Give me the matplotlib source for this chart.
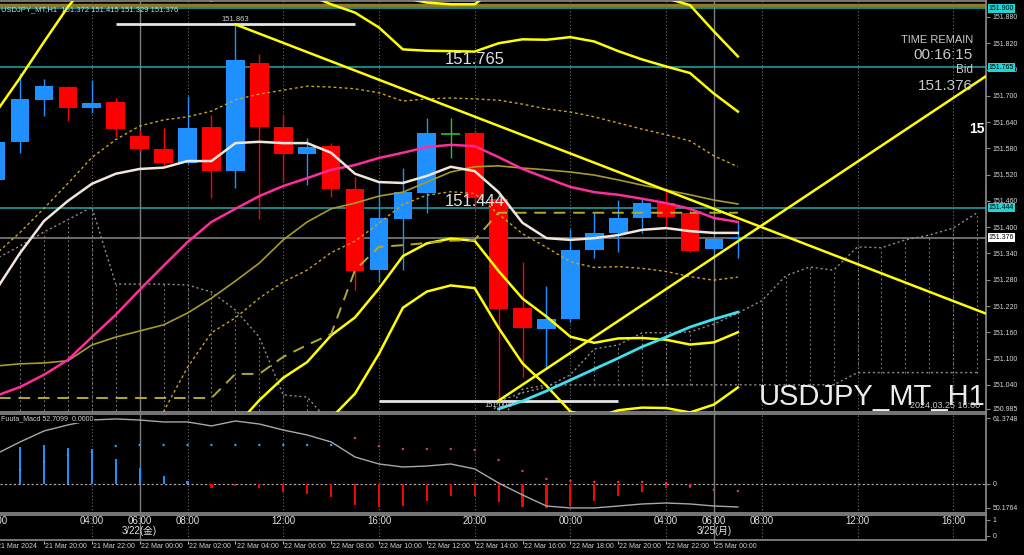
import numpy as np
import matplotlib
matplotlib.use("Agg")
import matplotlib.pyplot as plt
from matplotlib.transforms import blended_transform_factory as btf

plt.rcParams['font.family'] = ['Liberation Sans', 'Noto Sans CJK JP', 'DejaVu Sans']

# ---------------- data (bar index 0 = 21 Mar 18:00 server time, H1) ----------------
bar_idx = list(range(32))
opens = [151.508, 151.595, 151.690, 151.720, 151.672, 151.686, 151.608, 151.579, 151.547, 151.629,
         151.528, 151.775, 151.629, 151.567, 151.585, 151.487, 151.302, 151.419, 151.478, 151.613,
         151.615, 151.464, 151.216, 151.168, 151.190, 151.348, 151.387, 151.421, 151.455, 151.433,
         151.350, 151.372]
highs = [151.600, 151.752, 151.738, 151.722, 151.736, 151.695, 151.622, 151.627, 151.700, 151.656,
         151.863, 151.796, 151.656, 151.604, 151.592, 151.515, 151.503, 151.535, 151.649, 151.649,
         151.622, 151.466, 151.321, 151.266, 151.396, 151.433, 151.462, 151.465, 151.485, 151.440,
         151.378, 151.415]
lows = [151.495, 151.569, 151.654, 151.643, 151.661, 151.606, 151.575, 151.538, 151.545, 151.467,
        151.490, 151.419, 151.503, 151.496, 151.469, 151.257, 151.275, 151.302, 151.433, 151.558,
        151.440, 151.004, 151.058, 151.081, 151.184, 151.330, 151.343, 151.387, 151.400, 151.343,
        151.345, 151.329]
closes = [151.594, 151.693, 151.722, 151.672, 151.684, 151.624, 151.579, 151.547, 151.627, 151.528,
          151.782, 151.629, 151.567, 151.583, 151.487, 151.300, 151.421, 151.480, 151.615, 151.613,
          151.467, 151.213, 151.170, 151.190, 151.348, 151.387, 151.421, 151.455, 151.423, 151.346,
          151.373, 151.376]

tenkan = [151.257, 151.341, 151.414, 151.460, 151.499, 151.522, 151.533, 151.536, 151.551, 151.551,
          151.592, 151.595, 151.592, 151.592, 151.570, 151.522, 151.503, 151.501, 151.517, 151.538,
          151.528, 151.480, 151.410, 151.375, 151.371, 151.375, 151.382, 151.394, 151.398, 151.391,
          151.387, 151.387]
bb_mid = [151.015, 151.035, 151.063, 151.097, 151.149, 151.200, 151.257, 151.312, 151.366, 151.412,
          151.442, 151.471, 151.494, 151.512, 151.531, 151.542, 151.558, 151.570, 151.583, 151.588,
          151.585, 151.560, 151.533, 151.512, 151.492, 151.480, 151.474, 151.465, 151.455, 151.442,
          151.421, 151.412]
bb_sigma = [0.324, 0.353, 0.380, 0.403, 0.410, 0.400, 0.374, 0.333, 0.286, 0.253,
            0.249, 0.233, 0.219, 0.210, 0.189, 0.174, 0.149, 0.118, 0.110, 0.107,
            0.108, 0.130, 0.148, 0.158, 0.171, 0.172, 0.164, 0.159, 0.156, 0.155,
            0.142, 0.126]
olive_line = [151.083, 151.088, 151.090, 151.095, 151.131, 151.149, 151.163, 151.177, 151.204, 151.238,
              151.277, 151.318, 151.371, 151.412, 151.442, 151.455, 151.471, 151.480, 151.503, 151.526,
              151.538, 151.540, 151.535, 151.531, 151.526, 151.519, 151.508, 151.496, 151.485, 151.474,
              151.462, 151.453]
dash_line = [151.010, 151.010, 151.010, 151.010, 151.010, 151.010, 151.010, 151.010, 151.010, 151.010,
             151.065, 151.065, 151.104, 151.131, 151.156, 151.302, 151.355, 151.359, 151.364, 151.369,
             151.371, 151.433, 151.433, 151.433, 151.433, 151.433, 151.433, 151.433, 151.433, 151.433,
             151.433, 151.433]
cyan_line = [None] * 21 + [150.985, 151.003, 151.026, 151.051, 151.076, 151.101, 151.127, 151.149,
                           151.172, 151.190, 151.206]
cloud_a = [151.328, 151.357, 151.389, 151.417, 151.446, 151.270, 151.270, 151.270, 151.268, 151.252,
           151.211, 151.149, 151.017, 151.012, 150.950, 150.900, 150.900, 150.900, 150.900, 150.900,
           150.900, 151.003, 151.022, 151.035, 151.063, 151.122, 151.131, 151.159, 151.159, 151.161,
           151.179, 151.204, 151.232, 151.289, 151.309, 151.302, 151.355, 151.353, 151.371, 151.382,
           151.398, 151.433]
cloud_b = [150.900, 150.900, 150.900, 150.900, 150.900, 150.900, 150.900, 150.900, 150.900, 150.900,
           150.900, 150.900, 150.900, 150.900, 150.900, 150.900, 150.900, 150.900, 150.900, 150.900,
           150.900, 150.950, 151.030, 151.040, 151.040, 151.040, 151.040, 151.040, 151.040, 151.040,
           151.040, 151.040, 151.040, 151.040, 151.040, 151.040, 151.068, 151.068, 151.068, 151.068,
           151.068, 151.068]

macd_hist = [30.0, 34.4, 36.3, 33.5, 32.6, 23.3, 14.9, 7.4, 2.8, -3.7,
             -1.9, -3.7, -7.4, -9.3, -12.1, -19.5, -21.4, -20.5, -15.8, -11.2,
             -11.2, -16.7, -21.4, -22.3, -20.5, -15.8, -11.2, -7.4, -3.7, -3.7,
             0.0, 0.0]
macd_dots = [None, 13.0, 20.5, 27.0, 29.8, 35.3, 36.3, 36.3, 36.3, 36.3,
             36.3, 36.3, 36.3, 36.3, 36.3, 42.8, 35.3, 32.6, 32.6, 32.6,
             31.6, 22.3, 12.1, 4.7, 2.8, 1.9, 1.9, 1.9, 0.9, -1.9,
             -5.6, -6.5]
macd_line = [27.9, 39.1, 49.3, 54.9, 59.5, 60.5, 59.5, 57.7, 57.7, 54.0,
             58.6, 55.8, 50.2, 45.6, 39.1, 25.1, 18.6, 15.8, 16.7, 18.6,
             14.0, 0.9, -10.2, -20.5, -22.3, -22.3, -20.5, -18.6, -17.7, -18.6,
             -20.5, -21.4]

cyan_levels = [151.900, 151.765, 151.444]
top_level = 151.908
bid_price = 151.376
high_mark = (10, 151.863)
low_mark = (21, 151.004)
tl_down = ([10, 41.4], [151.863, 151.202])
tl_up = ([21, 41.4], [151.004, 151.746])

price_ticks = [151.880, 151.820, 151.760, 151.700, 151.640, 151.580, 151.520, 151.460, 151.400,
               151.340, 151.280, 151.220, 151.160, 151.100, 151.040, 150.985]
macd_ticks = [61.3748, 0.0, -22.3]
macd_tick_labels = ['61.3748', '0', '50.1764']

jst_pos = [0, 4, 6, 8, 12, 16, 20, 24, 28, 30, 32, 36, 40]
jst_labels = ['00:00', '04:00', '06:00', '08:00', '12:00', '16:00', '20:00',
              '00:00', '04:00', '06:00', '08:00', '12:00', '16:00']
date_pos = [6, 30]
date_labels = ['3/22(金)', '3/25(月)']
server_pos = [0, 2, 4, 6, 8, 10, 12, 14, 16, 18, 20, 22, 24, 26, 28, 30]
server_labels = ['21 Mar 2024', '21 Mar 20:00', '21 Mar 22:00', '22 Mar 00:00', '22 Mar 02:00',
                 '22 Mar 04:00', '22 Mar 06:00', '22 Mar 08:00', '22 Mar 10:00', '22 Mar 12:00',
                 '22 Mar 14:00', '22 Mar 16:00', '22 Mar 18:00', '22 Mar 20:00', '22 Mar 22:00',
                 '25 Mar 00:00']
grid_pos = [0, 4, 8, 12, 16, 20, 24, 28, 32, 36, 40]
sep_pos = [6, 30]

# ---------------- figure ----------------
W, H = 1024, 555
BG = 'black'
XL = (0.163, 41.37)
fig = plt.figure(figsize=(W / 100, H / 100), dpi=100, facecolor=BG)


def rect(y_top, y_bot, x_right=986):
    return [0, 1 - y_bot / H, x_right / W, (y_bot - y_top) / H]


def ftext(px, py, s, **kw):
    return fig.text(px / W, 1 - py / H, s, **kw)


ax = fig.add_axes(rect(1, 412))
axm = fig.add_axes(rect(414, 513))
ax3 = fig.add_axes(rect(515, 540))
ax4 = fig.add_axes(rect(541, 555))

for a in (ax, axm, ax3, ax4):
    a.set_facecolor(BG)
    a.set_xlim(*XL)
    a.set_xticks([])
    for s in a.spines.values():
        s.set_color('#8c8c8c')
        s.set_linewidth(1.2)
    a.spines['left'].set_visible(False)
for s in ax4.spines.values():
    s.set_visible(False)
ax4.set_yticks([])
ax4.set_ylim(0, 1)

for a in (ax, axm, ax3):
    for g in grid_pos:
        a.axvline(g, color='#6c6c6c', lw=0.8, ls=(0, (1, 2)), zorder=0.5)
    for g in sep_pos:
        a.axvline(g, color='#7c7c7c', lw=1.0, zorder=0.5)

# ---------------- main price panel ----------------
ax.set_ylim(150.978, 151.9165)
idx = np.array(bar_idx, dtype=float)
o = np.array(opens); h = np.array(highs); l = np.array(lows); c = np.array(closes)

# ichimoku-like cloud
ca = np.array(cloud_a, dtype=float)
cb = np.array(cloud_b, dtype=float)
ci = np.arange(len(ca))
ax.plot(ci, ca, color='#8e8e8e', lw=1, ls=(0, (1.5, 2)), zorder=1)
ax.plot(ci, cb, color='#8e8e8e', lw=1, ls=(0, (1.5, 2)), zorder=1)
for i in ci:
    if abs(ca[i] - cb[i]) > 0.006:
        ax.vlines(i, min(ca[i], cb[i]), max(ca[i], cb[i]), color='#7e7e7e', lw=0.8,
                  ls=(0, (1.5, 2.5)), zorder=1)

# horizontal levels
ax.axhline(top_level, color='#8a7a2a', lw=2.5, zorder=1.5)
for lv in cyan_levels:
    ax.axhline(lv, color='#1fa8a8', lw=1.1, zorder=1.5)
ax.axhline(bid_price, color='#8a8a8a', lw=1.1, zorder=1.5)

# high / low markers
ax.hlines(high_mark[1], high_mark[0] - 5, high_mark[0] + 5, color='#e6e6e6', lw=2, zorder=2)
ax.hlines(low_mark[1], low_mark[0] - 5, low_mark[0] + 5, color='#e6e6e6', lw=2, zorder=2)
ax.text(high_mark[0], high_mark[1] + 0.004, f"{high_mark[1]:.3f}", ha='center', va='bottom',
        fontsize=5.5, color='#d0d0d0', zorder=8)
ax.text(low_mark[0], low_mark[1] - 0.003, f"{low_mark[1]:.3f}", ha='center', va='top',
        fontsize=5.5, color='#d0d0d0', zorder=8)

# candles
up_c, dn_c, doji_c = '#1e90ff', '#ff0000', '#2fbf2f'
cols = [up_c if cc > oo else (dn_c if cc < oo else doji_c) for oo, cc in zip(o, c)]
ax.vlines(idx, l, h, colors=cols, lw=1, zorder=3)
ax.bar(idx, np.abs(c - o), bottom=np.minimum(o, c), width=0.78, color=cols, linewidth=0, zorder=3.2)
dj = c == o
ax.hlines(o[dj], idx[dj] - 0.39, idx[dj] + 0.39, color=doji_c, lw=1.2, zorder=3.3)

# bollinger bands
mid = np.array(bb_mid); sg = np.array(bb_sigma)
for k in (3, 2):
    ax.plot(idx, mid + k * sg, color='#ffff00', lw=1.8, zorder=4)
    ax.plot(idx, mid - k * sg, color='#ffff00', lw=1.8, zorder=4)
ax.plot(idx, mid + sg, color='#c9a227', lw=1, ls=(0, (2, 2)), zorder=4)
ax.plot(idx, mid - sg, color='#c9a227', lw=1, ls=(0, (2, 2)), zorder=4)
ax.plot(idx, olive_line, color='#a89a2a', lw=1.2, zorder=4)
ax.plot(idx, dash_line, color='#b4aa2a', lw=1.4, ls=(0, (6, 4)), zorder=4)
ax.plot(idx, mid, color='#ff2d9b', lw=1.8, zorder=4.2)
ax.plot(idx, tenkan, color='#f0e6dc', lw=1.8, zorder=4.3)
ax.plot(idx, np.array(cyan_line, dtype=float), color='#3fe0f0', lw=2, zorder=4.3)

# trend lines
ax.plot(*tl_down, color='#ffff00', lw=1.8, zorder=4.5)
ax.plot(*tl_up, color='#ffff00', lw=1.8, zorder=4.5)

# price axis
ax.yaxis.tick_right()
ax.set_yticks(price_ticks)
ax.set_yticklabels([f"{t:.3f}" for t in price_ticks])
ax.tick_params(axis='y', labelcolor='#d8d8d8', color='#8c8c8c', labelsize=5, length=3, width=0.8, pad=2)
trans = btf(ax.transAxes, ax.transData)
for lv in cyan_levels:
    ax.text(1.003, lv, f"{lv:.3f}", transform=trans, fontsize=5, color='black', va='center', ha='left',
            bbox=dict(boxstyle='square,pad=0.15', fc='#22d4d4', ec='none'), clip_on=False, zorder=10)
ax.text(1.003, bid_price, f"{bid_price:.3f}", transform=trans, fontsize=5, color='black', va='center',
        ha='left', bbox=dict(boxstyle='square,pad=0.15', fc='white', ec='none'), clip_on=False, zorder=10)

# overlay texts
ftext(1, 10, "USDJPY_MT,H1  151.372 151.415 151.329 151.376", fontsize=5.5, color='#c0dcf0',
      va='center', ha='left', zorder=20)
ftext(475, 59, f"{cyan_levels[1]:.3f}", fontsize=12, color='#e0e0e0', ha='center', va='center', zorder=20)
ftext(475, 201, f"{cyan_levels[2]:.3f}", fontsize=12, color='#e0e0e0', ha='center', va='center', zorder=20)
ftext(973, 40, "TIME REMAIN", fontsize=8, color='#c8c8c8', ha='right', va='center')
ftext(973, 55, "00:16:15", fontsize=11, color='#c8c8c8', ha='right', va='center')
ftext(973, 70, "Bid", fontsize=8.5, color='#c8c8c8', ha='right', va='center')
ftext(973, 86, f"{bid_price:.3f}", fontsize=11, color='#c8c8c8', ha='right', va='center')
ftext(985, 129, "15", fontsize=10, color='white', fontweight='bold', ha='right', va='center')
ftext(759, 405, "USDJPY_MT_H1", fontsize=21, color='#ececec', ha='left', va='baseline')
ftext(980, 406, "2024.03.25 16:00", fontsize=6.5, color='#c8c8c8', ha='right', va='center')

# ---------------- MACD panel ----------------
axm.set_ylim(-27.0, 65.1)
hv = np.array(macd_hist)
axm.bar(idx, hv, width=0.09, color=[up_c if v > 0 else dn_c for v in hv], linewidth=0, zorder=3)
axm.axhline(0, color='#b0b0b0', lw=0.8, ls=(0, (2, 2)), zorder=2)
axm.plot(idx, macd_line, color='#a8a8a8', lw=1, zorder=3)
dv = np.array(macd_dots, dtype=float)
axm.scatter(idx, dv, s=3, c=['#3a9ee0' if i < 15 else '#e03a7a' for i in bar_idx], linewidths=0, zorder=4)
axm.yaxis.tick_right()
axm.set_yticks(macd_ticks)
axm.set_yticklabels(macd_tick_labels)
axm.tick_params(axis='y', labelcolor='#d8d8d8', color='#8c8c8c', labelsize=5, length=3, width=0.8, pad=2)
axm.text(0.001, 0.95, "Fuuta_Macd 52.7099  0.0000", transform=axm.transAxes, fontsize=5, color='#d0d0d0',
         ha='left', va='center', zorder=10, bbox=dict(boxstyle='square,pad=0.1', fc='black', ec='none'))

# ---------------- third panel with JST labels ----------------
ax3.set_ylim(-0.25, 1.3125)
ax3.yaxis.tick_right()
ax3.set_yticks([1, 0])
ax3.set_yticklabels(['1', '0'])
ax3.tick_params(axis='y', labelcolor='#d8d8d8', color='#8c8c8c', labelsize=5, length=3, width=0.8, pad=2)
for p, s in zip(jst_pos, jst_labels):
    ax3.text(p, 0.9375, s, ha='center', va='center', fontsize=7, color='#e0e0e0', zorder=10)
for p, s in zip(date_pos, date_labels):
    ax3.text(p, 0.3125, s, ha='center', va='center', fontsize=7, color='#e0e0e0', zorder=10)

# ---------------- bottom time axis (server time) ----------------
for p, s in zip(server_pos, server_labels):
    ax4.vlines(p, 0.8, 1.0, color='#b0b0b0', lw=0.8)
    ax4.text(p + 0.05, 0.62, s, ha='left', va='center', fontsize=5, color='#d0d0d0')

fig.savefig('out.png', dpi=100, facecolor=BG)
